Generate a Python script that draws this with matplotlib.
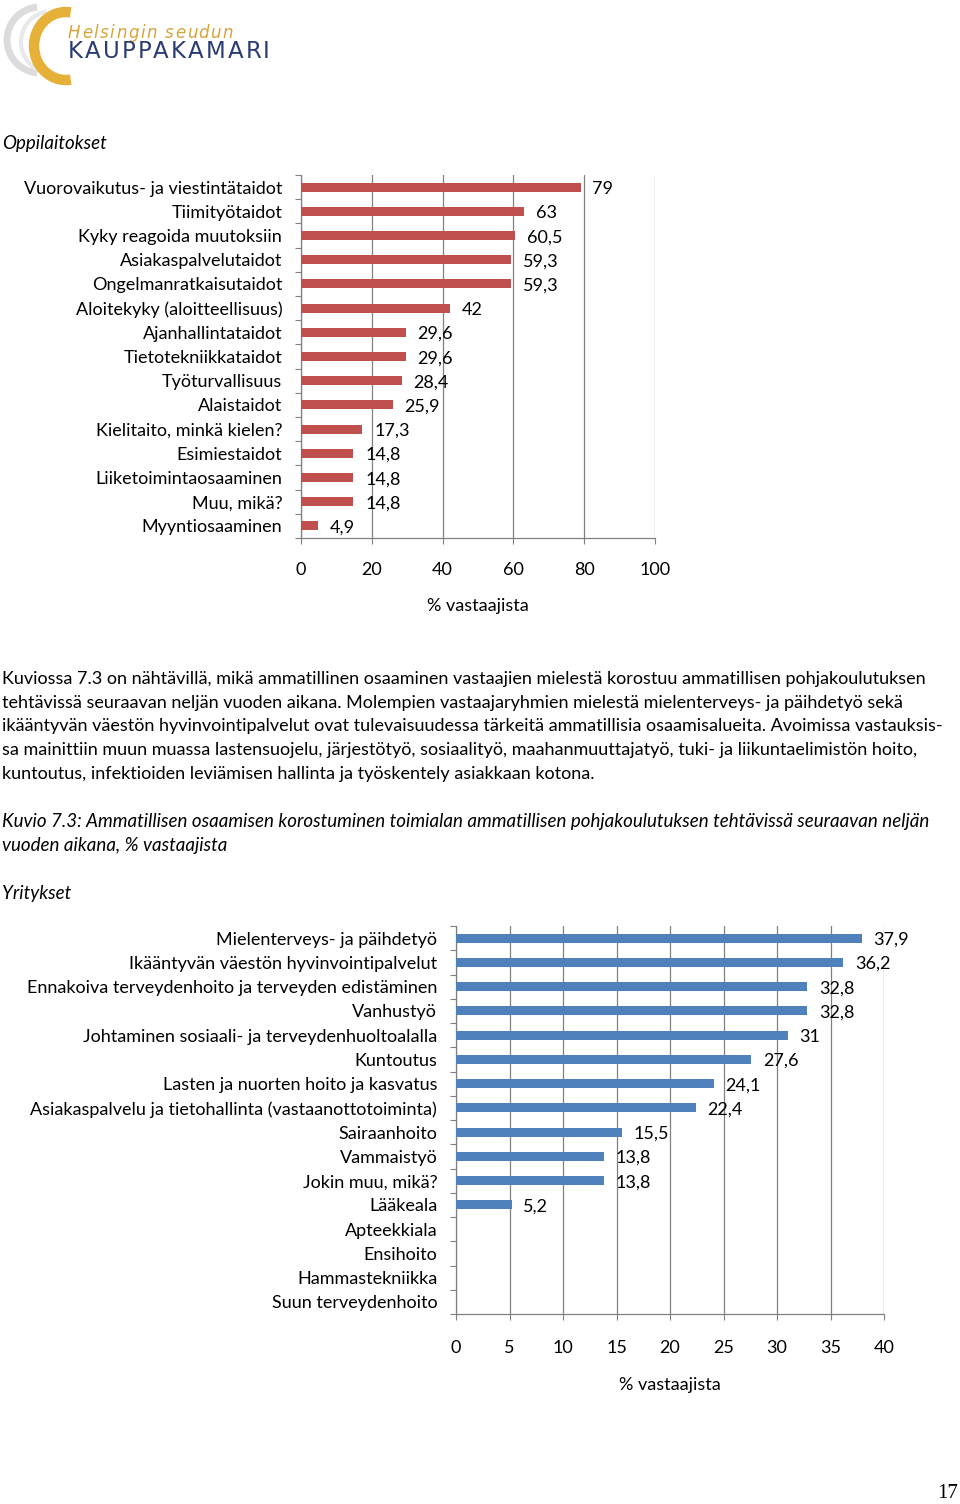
import matplotlib
matplotlib.use("Agg")
import matplotlib.pyplot as plt
import numpy as np
from matplotlib.patches import Arc

plt.rcParams['font.family'] = ['Lato', 'DejaVu Sans']

W, H = 960, 1504

# ---------------- data ----------------
top_categories = ["Vuorovaikutus- ja viestintätaidot", "Tiimityötaidot", "Kyky reagoida muutoksiin",
                  "Asiakaspalvelutaidot", "Ongelmanratkaisutaidot", "Aloitekyky (aloitteellisuus)",
                  "Ajanhallintataidot", "Tietotekniikkataidot", "Työturvallisuus", "Alaistaidot",
                  "Kielitaito, minkä kielen?", "Esimiestaidot", "Liiketoimintaosaaminen", "Muu, mikä?",
                  "Myyntiosaaminen"]
top_values = [79, 63, 60.5, 59.3, 59.3, 42, 29.6, 29.6, 28.4, 25.9, 17.3, 14.8, 14.8, 14.8, 4.9]
top_ticks = [0, 20, 40, 60, 80, 100]

bot_categories = ["Mielenterveys- ja päihdetyö", "Ikääntyvän väestön hyvinvointipalvelut",
                  "Ennakoiva terveydenhoito ja terveyden edistäminen", "Vanhustyö",
                  "Johtaminen sosiaali- ja terveydenhuoltoalalla", "Kuntoutus",
                  "Lasten ja nuorten hoito ja kasvatus",
                  "Asiakaspalvelu ja tietohallinta (vastaanottotoiminta)", "Sairaanhoito",
                  "Vammaistyö", "Jokin muu, mikä?", "Lääkeala", "Apteekkiala", "Ensihoito",
                  "Hammastekniikka", "Suun terveydenhoito"]
bot_values = [37.9, 36.2, 32.8, 32.8, 31, 27.6, 24.1, 22.4, 15.5, 13.8, 13.8, 5.2, 0, 0, 0, 0]
bot_ticks = [0, 5, 10, 15, 20, 25, 30, 35, 40]

paragraph = [
    "Kuviossa 7.3 on nähtävillä, mikä ammatillinen osaaminen vastaajien mielestä korostuu ammatillisen pohjakoulutuksen",
    "tehtävissä seuraavan neljän vuoden aikana. Molempien vastaajaryhmien mielestä mielenterveys- ja päihdetyö sekä",
    "ikääntyvän väestön hyvinvointipalvelut ovat tulevaisuudessa tärkeitä ammatillisia osaamisalueita. Avoimissa vastauksis-",
    "sa mainittiin muun muassa lastensuojelu, järjestötyö, sosiaalityö, maahanmuuttajatyö, tuki- ja liikuntaelimistön hoito,",
    "kuntoutus, infektioiden leviämisen hallinta ja työskentely asiakkaan kotona.",
]
caption = [
    "Kuvio 7.3: Ammatillisen osaamisen korostuminen toimialan ammatillisen pohjakoulutuksen tehtävissä seuraavan neljän",
    "vuoden aikana, % vastaajista",
]

RED = "#C0504D"
BLUE = "#4F81BD"
GRID = "#808080"
FS = 13.0
FSI = 13.5

fig = plt.figure(figsize=(W / 100, H / 100), dpi=100)


def fx(x):
    return x / W


def fy(y):
    return 1 - y / H


def fmt(v):
    if float(v).is_integer():
        return str(int(v))
    return f"{v:.1f}".replace(".", ",")


def bar_chart(left, right, top, bottom, cats, vals, ticks, color, xlabel_y, tpad):
    ax = fig.add_axes([fx(left), fy(bottom), fx(right) - fx(left), fy(top) - fy(bottom)])
    n = len(cats)
    y = np.arange(n)
    ax.barh(y, vals, height=0.37, color=color, zorder=3)
    ax.set_ylim(n - 0.5, -0.5)
    ax.set_xlim(ticks[0], ticks[-1])
    ax.set_xticks(ticks)
    ax.set_xticklabels([str(t) for t in ticks], fontsize=FS)
    ax.set_yticks(y)
    ax.set_yticklabels(cats, fontsize=FS)
    ax.set_yticks(np.arange(n + 1) - 0.5, minor=True)
    ax.tick_params(axis='y', which='major', length=0, pad=13.5)
    ax.tick_params(axis='y', which='minor', length=4, width=0.8, color=GRID, direction='out')
    ax.tick_params(axis='x', which='major', length=4, width=0.8, color=GRID, direction='out', pad=tpad)
    ax.grid(axis='x', color=GRID, linewidth=0.9, zorder=0)
    for s in ['top', 'right']:
        ax.spines[s].set_visible(False)
    for s in ['left', 'bottom']:
        ax.spines[s].set_color(GRID)
        ax.spines[s].set_linewidth(0.9)
    for yi, v in zip(y, vals):
        if v > 0:
            ax.annotate(fmt(v), (v, yi), xytext=(8.5, -1.2), textcoords='offset points',
                        ha='left', va='center', fontsize=FS, zorder=4)
    ax.set_xlabel("% vastaajista", fontsize=FS)
    ax.xaxis.set_label_coords(0.5, (bottom - xlabel_y) / (bottom - top))
    ax.xaxis.label.set_va('center')
    ax.set_facecolor('none')
    return ax


bar_chart(301, 655, 175, 538, top_categories, top_values, top_ticks, RED, 606, 13.0)
bar_chart(456, 884, 926, 1314, bot_categories, bot_values, bot_ticks, BLUE, 1385, 14.5)

# ---------------- texts ----------------
fig.text(fx(2), fy(143), "Oppilaitokset", fontsize=FSI, style='italic', va='center', ha='left')
for i, line in enumerate(paragraph):
    fig.text(fx(2), fy(679 + i * 23.7), line, fontsize=FS, va='center', ha='left')
for i, line in enumerate(caption):
    fig.text(fx(2), fy(821 + i * 24), line, fontsize=FSI, style='italic', va='center', ha='left')
fig.text(fx(2), fy(893), "Yritykset", fontsize=FSI, style='italic', va='center', ha='left')
fig.text(fx(958), fy(1494), "17", fontsize=15, family='Liberation Serif', va='center', ha='right')

# ---------------- logo ----------------
lax = fig.add_axes([0, fy(90), fx(300), 90 / H])
lax.set_xlim(0, 300)
lax.set_ylim(90, 0)
lax.axis('off')
lax.add_patch(Arc((40, 40), 66, 66, theta1=95, theta2=265, color="#DCDCDC", lw=5))
lax.add_patch(Arc((52, 42), 62, 62, theta1=100, theta2=260, color="#E9E9E9", lw=3))
lax.add_patch(Arc((66, 46), 64, 68, theta1=82, theta2=278, color="#E6B139", lw=7.5))

renderer = fig.canvas.get_renderer()


def spaced_text(x0, y0, x1, s, **kw):
    """Place string s letter by letter so that it spans from x0 to x1 (logo pixel coords)."""
    objs = []
    widths = []
    for ch in s:
        t = lax.text(0, y0, ch, va='baseline', ha='left', **kw)
        bb = t.get_window_extent(renderer)
        widths.append(bb.width * 300 / (fx(300) * W))
        objs.append(t)
    gap = (x1 - x0 - sum(widths)) / max(len(s) - 1, 1)
    x = x0
    for t, w in zip(objs, widths):
        t.set_x(x)
        x += w + gap


spaced_text(68, 38, 233, "Helsingin seudun", fontsize=12, family='DejaVu Sans', style='italic',
            color="#D5A43A")
spaced_text(68, 58, 270, "KAUPPAKAMARI", fontsize=16.5, family='DejaVu Sans', color="#2A3D72")

fig.savefig("out.png", dpi=100)
